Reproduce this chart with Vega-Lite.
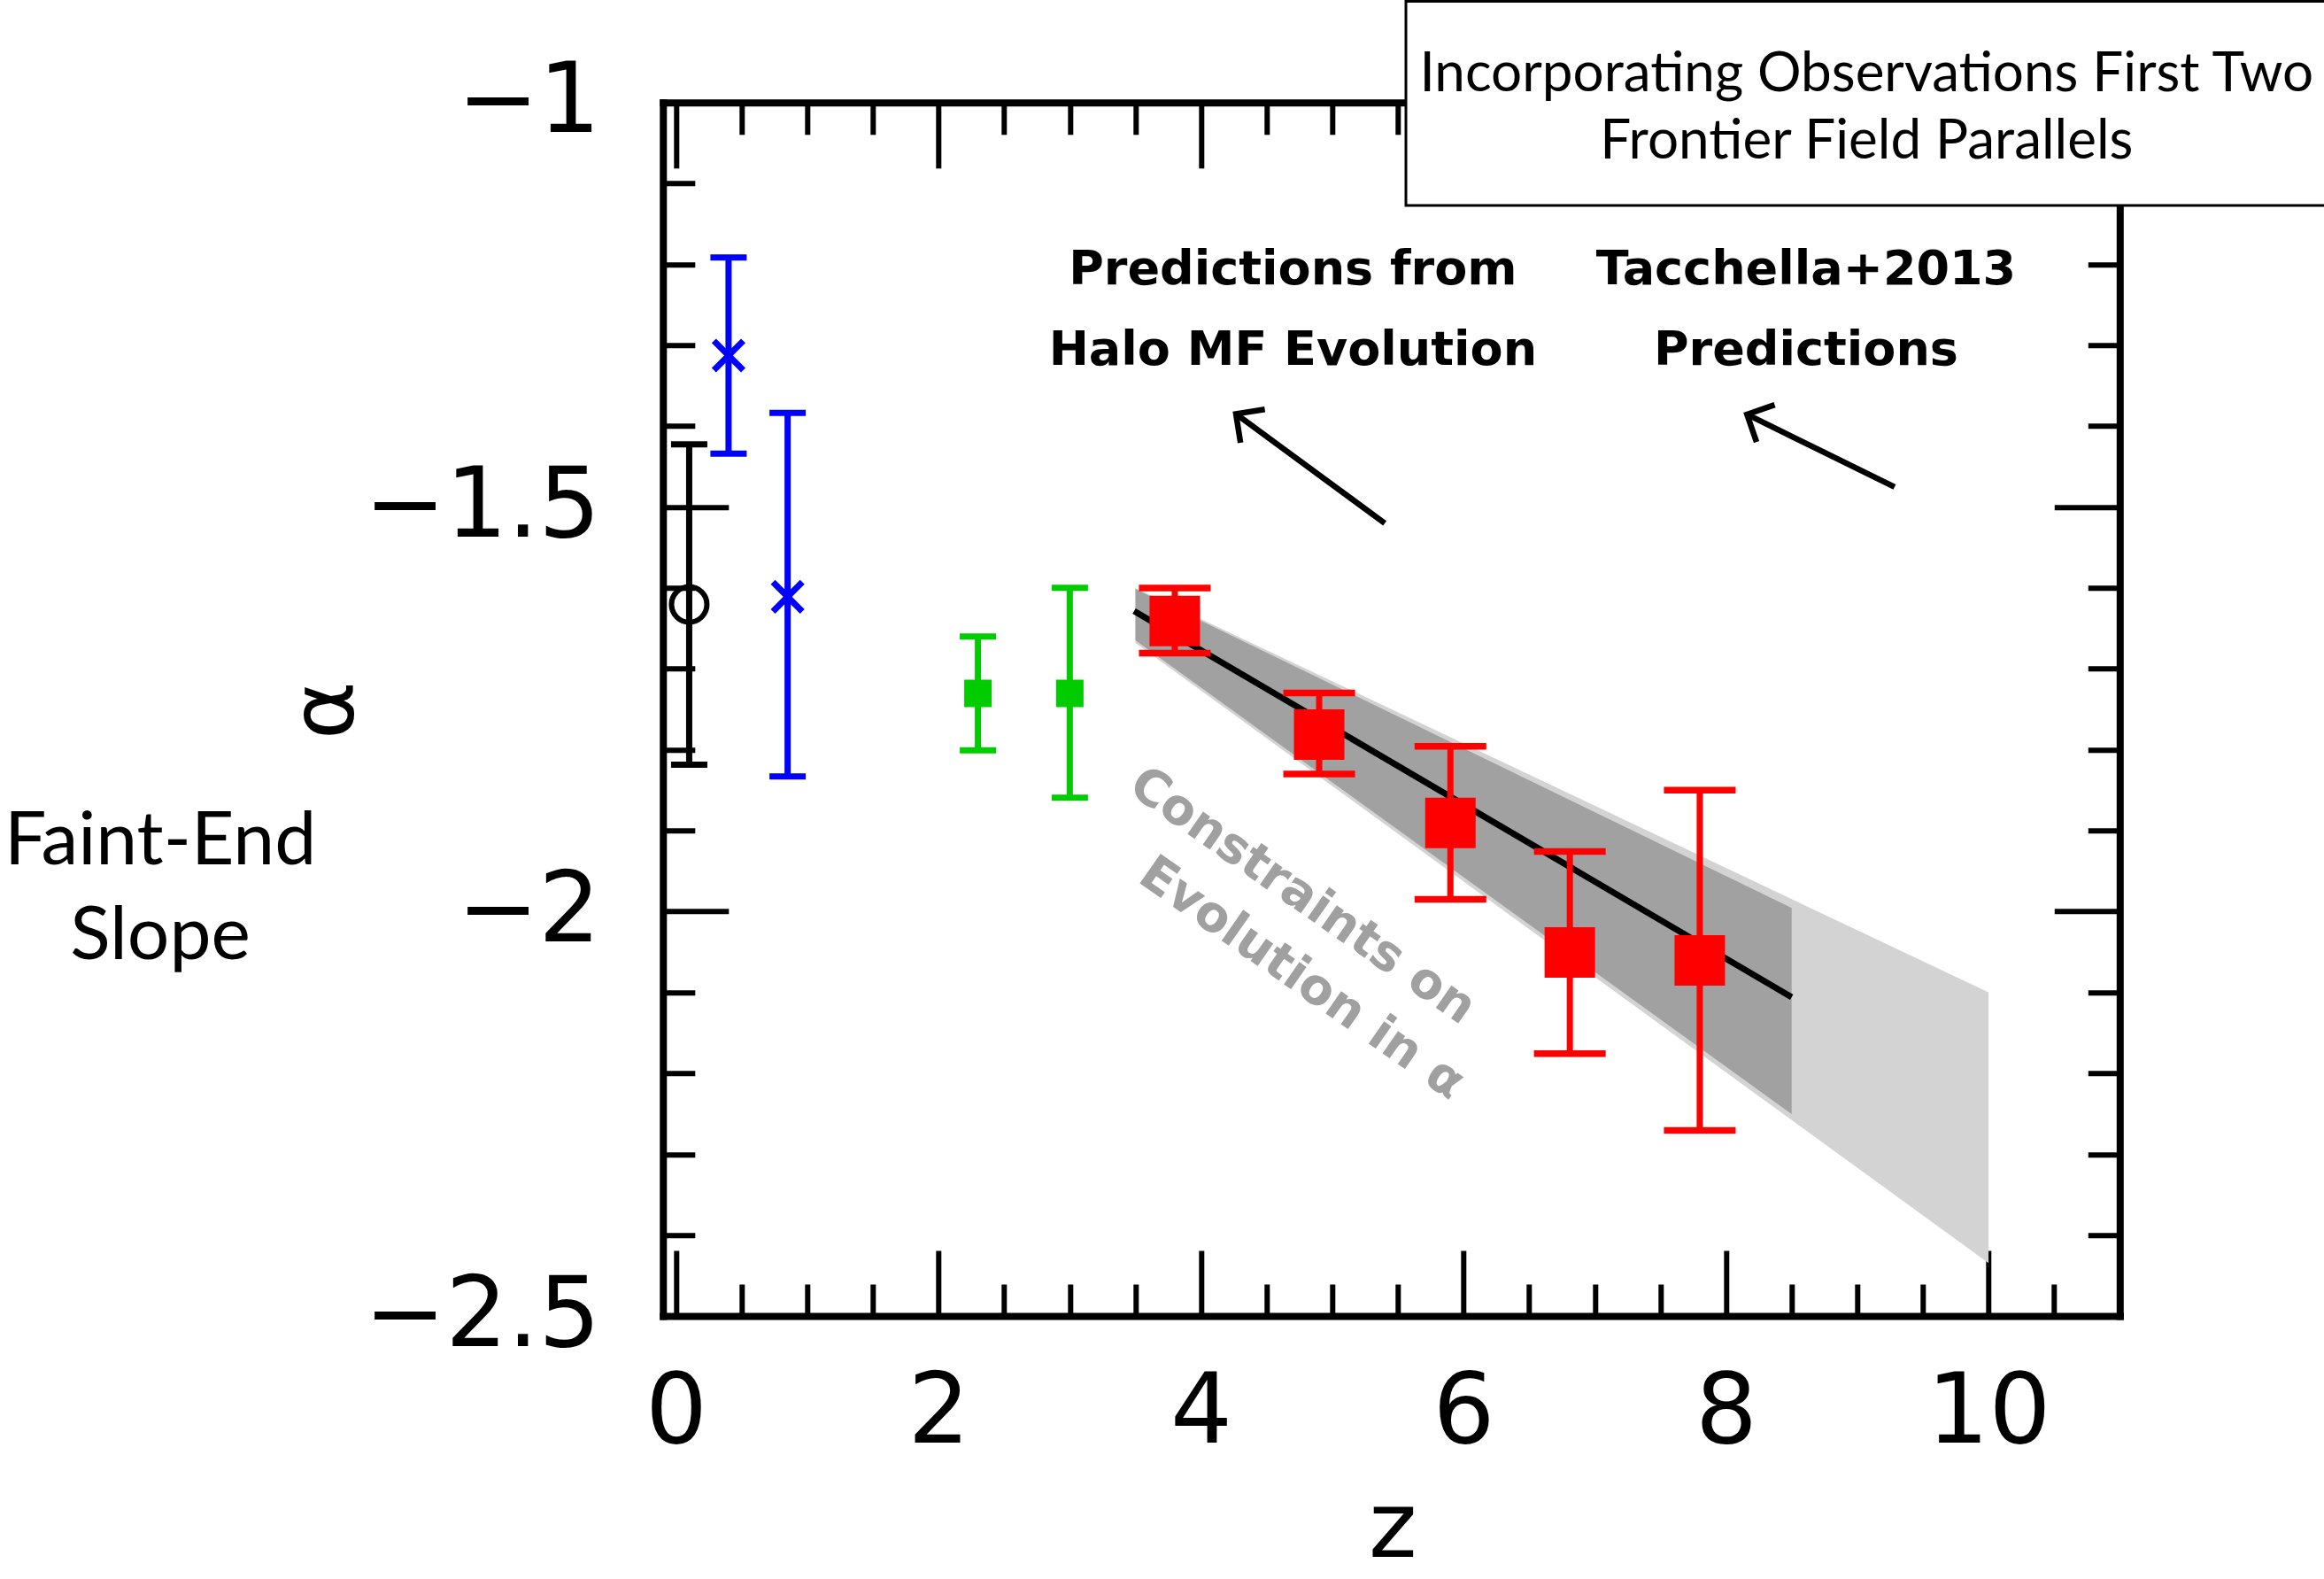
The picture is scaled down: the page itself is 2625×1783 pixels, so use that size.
{
  "$schema": "https://vega.github.io/schema/vega-lite/v6.json",
  "autosize": {"type": "none"},
  "width": 1645.5,
  "height": 1370.2,
  "padding": {"left": 748.8, "top": 115.8, "right": 230.7, "bottom": 297},
  "background": "white",
  "config": {"view": {"stroke": null}},
  "datasets": {
    "light": [
      {"z": 3.5, "hi": -1.600, "lo": -1.668},
      {"z": 10.0, "hi": -2.100, "lo": -2.4347}
    ],
    "dark": [
      {"z": 3.5, "hi": -1.6011, "lo": -1.6646},
      {"z": 8.5, "hi": -1.9956, "lo": -2.2504}
    ],
    "fit": [
      {"z": 3.49, "a": -1.6285},
      {"z": 8.5, "a": -2.1059}
    ],
    "obs": [
      {"set": "black", "z": 0.1, "a": -1.6205, "lo": -1.8184, "hi": -1.4226},
      {"set": "blue", "z": 0.40, "a": -1.3127, "lo": -1.4340, "hi": -1.1914},
      {"set": "blue", "z": 0.85, "a": -1.6110, "lo": -1.8329, "hi": -1.3836},
      {"set": "green", "z": 2.30, "a": -1.7304, "lo": -1.8008, "hi": -1.6601},
      {"set": "green", "z": 3.00, "a": -1.7304, "lo": -1.8593, "hi": -1.5998},
      {"set": "red", "z": 3.80, "a": -1.6408, "lo": -1.6806, "hi": -1.6000},
      {"set": "red", "z": 4.90, "a": -1.7814, "lo": -1.8301, "hi": -1.7299},
      {"set": "red", "z": 5.90, "a": -1.8906, "lo": -1.9849, "hi": -1.7959},
      {"set": "red", "z": 6.81, "a": -2.0507, "lo": -2.1757, "hi": -1.9258},
      {"set": "red", "z": 7.80, "a": -2.0604, "lo": -2.2706, "hi": -1.8501}
    ],
    "arrows": [
      {"id": 1, "z": 5.40, "a": -1.5201, "z2": 4.266, "a2": -1.3849},
      {"id": 2, "z": 9.284, "a": -1.4752, "z2": 8.16, "a2": -1.3855}
    ],
    "notes": [
      {"kind": "pred", "z": 4.70, "a": -1.2246, "text": "Predictions from"},
      {"kind": "pred", "z": 4.70, "a": -1.3242, "text": "Halo MF Evolution"},
      {"kind": "pred", "z": 8.61, "a": -1.2246, "text": "Tacchella+2013"},
      {"kind": "pred", "z": 8.61, "a": -1.3242, "text": "Predictions"},
      {"kind": "gray", "z": 4.773, "a": -1.9809, "text": "Constraints on"},
      {"kind": "gray", "z": 4.767, "a": -2.0827, "text": "Evolution in α"},
      {"kind": "side", "z": -3.93, "a": -1.9414, "text": "Faint-End"},
      {"kind": "side", "z": -3.93, "a": -2.0585, "text": "Slope"},
      {"kind": "box", "z": 9.071, "a": -0.98555, "text": "Incorporating Observations First Two"},
      {"kind": "box", "z": 9.071, "a": -1.0692, "text": "Frontier Field Parallels"}
    ],
    "box": [
      {"z1": 5.561, "z2": 12.7, "a1": -0.8749, "a2": -1.1272}
    ]
  },
  "resolve": {"axis": {"x": "independent", "y": "independent"}},
  "layer": [
    {
      "data": {"name": "light"},
      "mark": {"type": "area", "color": "#d3d3d3", "opacity": 1},
      "encoding": {
        "x": {
          "field": "z", "type": "quantitative",
          "scale": {"domain": [-0.1, 11], "nice": false, "zero": false},
          "axis": {
            "orient": "bottom",
            "values": [0, 0.5, 1, 1.5, 2, 2.5, 3, 3.5, 4, 4.5, 5, 5.5, 6, 6.5, 7, 7.5, 8, 8.5, 9, 9.5, 10, 10.5],
            "tickSize": {"condition": {"test": "datum.value % 2 == 0", "value": -74}, "value": -36},
            "tickWidth": 6, "tickColor": "#000000", "tickCap": "butt",
            "domainColor": "#000000", "domainWidth": 8, "domainCap": "square",
            "grid": false,
            "labelExpr": "datum.value % 2 == 0 ? format(datum.value, 'd') : ''",
            "labelFont": "DejaVu Sans", "labelFontSize": 110, "labelColor": "#000000",
            "labelPadding": 129, "labelBaseline": "top", "labelAlign": "center", "labelAngle": 0,
            "labelFlush": false, "labelOverlap": false, "labelBound": false, "labelLimit": 2000,
            "title": "z", "titleFont": "DejaVu Sans", "titleFontSize": 104, "titleFontWeight": "normal",
            "titleColor": "#000000", "titleX": 824, "titleY": 271, "titleAlign": "center", "titleBaseline": "alphabetic"
          }
        },
        "y": {
          "field": "hi", "type": "quantitative",
          "scale": {"domain": [-2.5, -1], "nice": false, "zero": false},
          "axis": {
            "orient": "left",
            "values": [-2.5, -2.4, -2.3, -2.2, -2.1, -2, -1.9, -1.8, -1.7, -1.6, -1.5, -1.4, -1.3, -1.2, -1.1, -1],
            "tickSize": {"condition": {"test": "abs(datum.value * 2 - round(datum.value * 2)) < 0.01", "value": -74}, "value": -36},
            "tickWidth": 6, "tickColor": "#000000", "tickCap": "butt",
            "domainColor": "#000000", "domainWidth": 8, "domainCap": "square",
            "grid": false,
            "labelExpr": "abs(datum.value * 2 - round(datum.value * 2)) < 0.01 ? format(datum.value, '~g') : ''",
            "labelFont": "DejaVu Sans", "labelFontSize": 110, "labelColor": "#000000",
            "labelPadding": 145, "labelBaseline": "middle", "labelAlign": "right",
            "labelFlush": false, "labelOverlap": false, "labelBound": false, "labelLimit": 2000,
            "title": "α", "titleFont": "DejaVu Sans", "titleFontSize": 100, "titleFontWeight": "normal",
            "titleColor": "#000000", "titleX": -380, "titleY": 686, "titleAngle": 270,
            "titleAlign": "center", "titleBaseline": "middle"
          }
        },
        "y2": {"field": "lo"}
      }
    },
    {
      "data": {"name": "dark"},
      "mark": {"type": "area", "color": "#a1a1a1", "opacity": 1},
      "encoding": {
        "x": {
          "field": "z", "type": "quantitative",
          "scale": {"domain": [-0.1, 11], "nice": false, "zero": false},
          "axis": {
            "orient": "top",
            "values": [0, 0.5, 1, 1.5, 2, 2.5, 3, 3.5, 4, 4.5, 5, 5.5, 6, 6.5, 7, 7.5, 8, 8.5, 9, 9.5, 10, 10.5],
            "tickSize": {"condition": {"test": "datum.value % 2 == 0", "value": -74}, "value": -36},
            "tickWidth": 6, "tickColor": "#000000", "tickCap": "butt",
            "domainColor": "#000000", "domainWidth": 8, "domainCap": "square",
            "grid": false, "labels": false, "title": null
          }
        },
        "y": {
          "field": "hi", "type": "quantitative",
          "scale": {"domain": [-2.5, -1], "nice": false, "zero": false},
          "axis": {
            "orient": "right",
            "values": [-2.5, -2.4, -2.3, -2.2, -2.1, -2, -1.9, -1.8, -1.7, -1.6, -1.5, -1.4, -1.3, -1.2, -1.1, -1],
            "tickSize": {"condition": {"test": "abs(datum.value * 2 - round(datum.value * 2)) < 0.01", "value": -74}, "value": -36},
            "tickWidth": 6, "tickColor": "#000000", "tickCap": "butt",
            "domainColor": "#000000", "domainWidth": 8, "domainCap": "square",
            "grid": false, "labels": false, "title": null
          }
        },
        "y2": {"field": "lo"}
      }
    },
    {
      "data": {"name": "fit"},
      "mark": {"type": "line", "color": "#000000", "strokeWidth": 7},
      "encoding": {
        "x": {"field": "z", "type": "quantitative", "scale": {"domain": [-0.1, 11], "nice": false, "zero": false}, "axis": null},
        "y": {"field": "a", "type": "quantitative", "scale": {"domain": [-2.5, -1], "nice": false, "zero": false}, "axis": null}
      }
    },
    {
      "data": {"name": "obs"},
      "mark": {"type": "rule", "strokeWidth": 7},
      "encoding": {
        "x": {"field": "z", "type": "quantitative", "scale": {"domain": [-0.1, 11], "nice": false, "zero": false}, "axis": null},
        "y": {"field": "lo", "type": "quantitative", "scale": {"domain": [-2.5, -1], "nice": false, "zero": false}, "axis": null},
        "y2": {"field": "hi"},
        "color": {"field": "set", "type": "nominal", "scale": {"domain": ["black", "blue", "green", "red"], "range": ["#000000", "#0000ff", "#00cc00", "#ff0000"]}, "legend": null}
      }
    },
    {
      "data": {"name": "obs"},
      "transform": [{"filter": "datum.set == 'red'"}, {"fold": ["lo", "hi"], "as": ["end", "v"]}],
      "mark": {"type": "tick", "orient": "horizontal", "size": 81, "thickness": 7.5, "color": "#ff0000", "opacity": 1},
      "encoding": {
        "x": {"field": "z", "type": "quantitative", "scale": {"domain": [-0.1, 11], "nice": false, "zero": false}, "axis": null},
        "y": {"field": "v", "type": "quantitative", "scale": {"domain": [-2.5, -1], "nice": false, "zero": false}, "axis": null}
      }
    },
    {
      "data": {"name": "obs"},
      "transform": [{"filter": "datum.set != 'red'"}, {"fold": ["lo", "hi"], "as": ["end", "v"]}],
      "mark": {"type": "tick", "orient": "horizontal", "size": 41, "thickness": 7, "opacity": 1},
      "encoding": {
        "x": {"field": "z", "type": "quantitative", "scale": {"domain": [-0.1, 11], "nice": false, "zero": false}, "axis": null},
        "y": {"field": "v", "type": "quantitative", "scale": {"domain": [-2.5, -1], "nice": false, "zero": false}, "axis": null},
        "color": {"field": "set", "type": "nominal", "scale": {"domain": ["black", "blue", "green", "red"], "range": ["#000000", "#0000ff", "#00cc00", "#ff0000"]}, "legend": null}
      }
    },
    {
      "data": {"name": "obs"},
      "transform": [{"filter": "datum.set == 'red'"}],
      "mark": {"type": "point", "shape": "square", "filled": true, "size": 3250, "color": "#ff0000", "opacity": 1},
      "encoding": {
        "x": {"field": "z", "type": "quantitative", "scale": {"domain": [-0.1, 11], "nice": false, "zero": false}, "axis": null},
        "y": {"field": "a", "type": "quantitative", "scale": {"domain": [-2.5, -1], "nice": false, "zero": false}, "axis": null}
      }
    },
    {
      "data": {"name": "obs"},
      "transform": [{"filter": "datum.set == 'green'"}],
      "mark": {"type": "point", "shape": "square", "filled": true, "size": 960, "color": "#00cc00", "opacity": 1},
      "encoding": {
        "x": {"field": "z", "type": "quantitative", "scale": {"domain": [-0.1, 11], "nice": false, "zero": false}, "axis": null},
        "y": {"field": "a", "type": "quantitative", "scale": {"domain": [-2.5, -1], "nice": false, "zero": false}, "axis": null}
      }
    },
    {
      "data": {"name": "obs"},
      "transform": [{"filter": "datum.set == 'blue'"}],
      "mark": {"type": "point", "shape": "M -1 -1 L 1 1 M 1 -1 L -1 1", "filled": false, "size": 1100, "stroke": "#0000ff", "strokeWidth": 7, "opacity": 1},
      "encoding": {
        "x": {"field": "z", "type": "quantitative", "scale": {"domain": [-0.1, 11], "nice": false, "zero": false}, "axis": null},
        "y": {"field": "a", "type": "quantitative", "scale": {"domain": [-2.5, -1], "nice": false, "zero": false}, "axis": null}
      }
    },
    {
      "data": {"name": "obs"},
      "transform": [{"filter": "datum.set == 'black'"}],
      "mark": {"type": "point", "shape": "circle", "filled": false, "size": 1600, "stroke": "#000000", "strokeWidth": 6, "opacity": 1},
      "encoding": {
        "x": {"field": "z", "type": "quantitative", "scale": {"domain": [-0.1, 11], "nice": false, "zero": false}, "axis": null},
        "y": {"field": "a", "type": "quantitative", "scale": {"domain": [-2.5, -1], "nice": false, "zero": false}, "axis": null}
      }
    },
    {
      "data": {"name": "notes"},
      "transform": [{"filter": "datum.kind == 'pred'"}],
      "mark": {"type": "text", "font": "DejaVu Sans", "fontWeight": "bold", "fontSize": 54, "color": "#000000", "align": "center", "baseline": "alphabetic"},
      "encoding": {
        "x": {"field": "z", "type": "quantitative", "scale": {"domain": [-0.1, 11], "nice": false, "zero": false}, "axis": null},
        "y": {"field": "a", "type": "quantitative", "scale": {"domain": [-2.5, -1], "nice": false, "zero": false}, "axis": null},
        "text": {"field": "text"}
      }
    },
    {
      "data": {"name": "notes"},
      "transform": [{"filter": "datum.kind == 'gray'"}],
      "mark": {"type": "text", "font": "DejaVu Sans", "fontWeight": "bold", "fontSize": 56, "color": "#a0a0a0", "align": "center", "baseline": "middle", "angle": 35},
      "encoding": {
        "x": {"field": "z", "type": "quantitative", "scale": {"domain": [-0.1, 11], "nice": false, "zero": false}, "axis": null},
        "y": {"field": "a", "type": "quantitative", "scale": {"domain": [-2.5, -1], "nice": false, "zero": false}, "axis": null},
        "text": {"field": "text"}
      }
    },
    {
      "data": {"name": "notes"},
      "transform": [{"filter": "datum.kind == 'side'"}],
      "mark": {"type": "text", "font": "Lato", "fontSize": 84, "color": "#000000", "align": "center", "baseline": "alphabetic"},
      "encoding": {
        "x": {"field": "z", "type": "quantitative", "scale": {"domain": [-0.1, 11], "nice": false, "zero": false}, "axis": null},
        "y": {"field": "a", "type": "quantitative", "scale": {"domain": [-2.5, -1], "nice": false, "zero": false}, "axis": null},
        "text": {"field": "text"}
      }
    },
    {
      "data": {"name": "arrows"},
      "mark": {"type": "rule", "color": "#000000", "strokeWidth": 6.5},
      "encoding": {
        "x": {"field": "z", "type": "quantitative", "scale": {"domain": [-0.1, 11], "nice": false, "zero": false}, "axis": null},
        "y": {"field": "a", "type": "quantitative", "scale": {"domain": [-2.5, -1], "nice": false, "zero": false}, "axis": null},
        "x2": {"field": "z2"},
        "y2": {"field": "a2"}
      }
    },
    {
      "data": {"name": "arrows"},
      "transform": [{"filter": "datum.id == 1"}],
      "mark": {"type": "point", "shape": "M -0.7 0.7 L 0 0 L 0.7 0.7", "filled": false, "size": 4450, "stroke": "#000000", "strokeWidth": 6.5, "angle": 306, "opacity": 1},
      "encoding": {
        "x": {"field": "z2", "type": "quantitative", "scale": {"domain": [-0.1, 11], "nice": false, "zero": false}, "axis": null},
        "y": {"field": "a2", "type": "quantitative", "scale": {"domain": [-2.5, -1], "nice": false, "zero": false}, "axis": null}
      }
    },
    {
      "data": {"name": "arrows"},
      "transform": [{"filter": "datum.id == 2"}],
      "mark": {"type": "point", "shape": "M -0.7 0.7 L 0 0 L 0.7 0.7", "filled": false, "size": 4450, "stroke": "#000000", "strokeWidth": 6.5, "angle": 296, "opacity": 1},
      "encoding": {
        "x": {"field": "z2", "type": "quantitative", "scale": {"domain": [-0.1, 11], "nice": false, "zero": false}, "axis": null},
        "y": {"field": "a2", "type": "quantitative", "scale": {"domain": [-2.5, -1], "nice": false, "zero": false}, "axis": null}
      }
    },
    {
      "data": {"name": "box"},
      "mark": {"type": "rect", "fill": "#ffffff", "stroke": "#000000", "strokeWidth": 3},
      "encoding": {
        "x": {"field": "z1", "type": "quantitative", "scale": {"domain": [-0.1, 11], "nice": false, "zero": false}, "axis": null},
        "x2": {"field": "z2"},
        "y": {"field": "a1", "type": "quantitative", "scale": {"domain": [-2.5, -1], "nice": false, "zero": false}, "axis": null},
        "y2": {"field": "a2"}
      }
    },
    {
      "data": {"name": "notes"},
      "transform": [{"filter": "datum.kind == 'box'"}],
      "mark": {"type": "text", "font": "Lato", "fontSize": 62, "color": "#000000", "align": "center", "baseline": "alphabetic"},
      "encoding": {
        "x": {"field": "z", "type": "quantitative", "scale": {"domain": [-0.1, 11], "nice": false, "zero": false}, "axis": null},
        "y": {"field": "a", "type": "quantitative", "scale": {"domain": [-2.5, -1], "nice": false, "zero": false}, "axis": null},
        "text": {"field": "text"}
      }
    }
  ]
}
